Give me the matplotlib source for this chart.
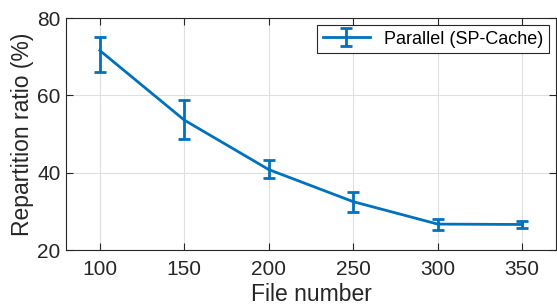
import matplotlib
matplotlib.use('Agg')
import matplotlib.pyplot as plt

file_number = [100, 150, 200, 250, 300, 350]
ratio = [71.6, 53.6, 40.8, 32.5, 26.7, 26.6]
err_low = [5.5, 4.9, 2.3, 2.6, 1.4, 0.9]
err_high = [3.6, 5.2, 2.4, 2.4, 1.4, 0.9]

plt.rcParams['font.family'] = ['Liberation Sans', 'DejaVu Sans']

fig = plt.figure(figsize=(5.57, 3.07), dpi=100)
ax = fig.add_axes([66/557, 57/307, 490/557, 232/307])
ax.errorbar(file_number, ratio, yerr=[err_low, err_high], color='#0072BD',
            linewidth=2, elinewidth=2, capsize=4, capthick=2,
            label='Parallel (SP-Cache)')
ax.set_xlim(80, 370)
ax.set_ylim(20, 80)
ax.set_xticks(file_number)
ax.set_yticks([20, 40, 60, 80])
ax.grid(True, color='#dfdfdf', linewidth=0.8)
ax.set_axisbelow(True)
ax.tick_params(direction='in', top=True, right=True, labelsize=15,
               colors='#262626', length=5, width=0.8)
ax.tick_params(axis='x', pad=7)
ax.tick_params(axis='y', pad=4)
for s in ax.spines.values():
    s.set_color('#262626')
    s.set_linewidth(0.8)
ax.set_xlabel('File number', fontsize=16.5, color='#262626', labelpad=3)
ax.set_ylabel('Repartition ratio (%)', fontsize=16.5, color='#262626', labelpad=2)
leg = ax.legend(loc='upper right', fontsize=13, fancybox=False, framealpha=1,
                edgecolor='#262626', borderpad=0.3, handlelength=2.6,
                borderaxespad=0.4)
leg.get_frame().set_linewidth(0.8)
fig.savefig('out.png', dpi=100)
